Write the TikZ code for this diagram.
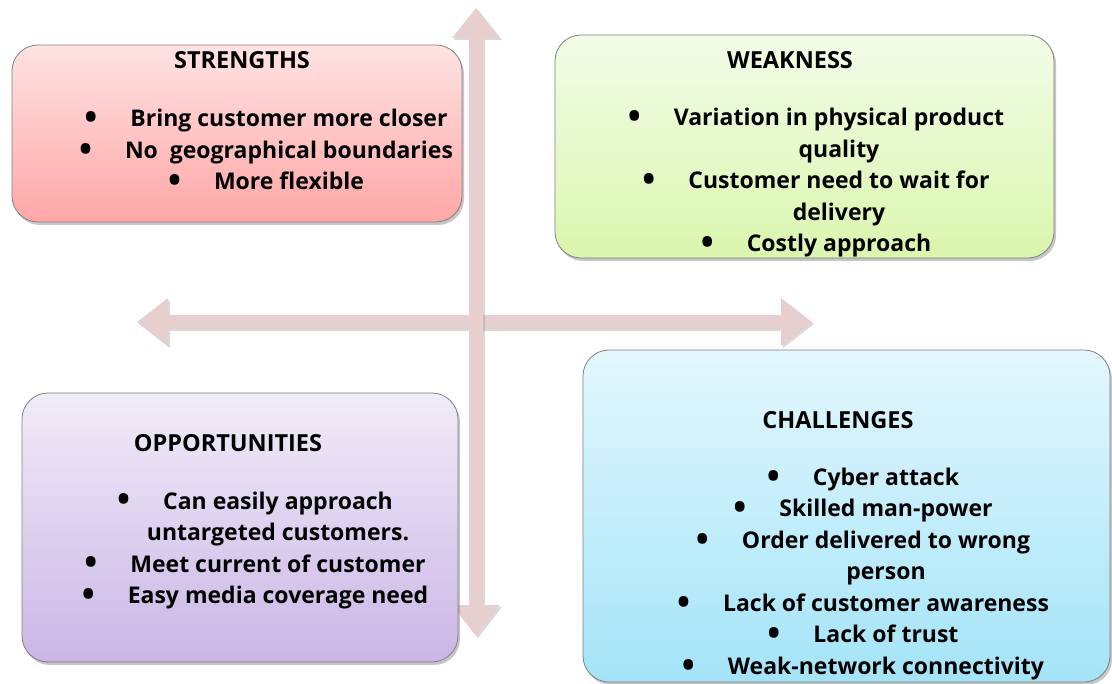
\documentclass[tikz,border=0pt]{standalone}
\usepackage{fontspec}
\IfFontExistsTF{Open Sans ExtraBold}
	{\setmainfont{Open Sans}[BoldFont={Open Sans ExtraBold}]}
	{\setmainfont{Open Sans}}
\usetikzlibrary{shadows}
\definecolor{axispink}{HTML}{E8CFCF}
\definecolor{strtop}{HTML}{FFE3E3} \definecolor{strbot}{HTML}{FFA6A6}
\definecolor{weaktop}{HTML}{F3FCE8} \definecolor{weakbot}{HTML}{DAF6AE}
\definecolor{opptop}{HTML}{F0ECF8} \definecolor{oppbot}{HTML}{CBB6E6}
\definecolor{chaltop}{HTML}{E3F7FD} \definecolor{chalbot}{HTML}{A4E4F8}
\newcommand\blt{\makebox[46pt][l]{\raisebox{-2.6pt}{\scalebox{1.5}{\textbullet}}}}
\newcommand\hang{\makebox[46pt]{}}
\begin{document}
\begin{tikzpicture}[x=1pt,y=-1pt,
		quad/.style={draw=gray,line width=.8pt,rounded corners=26pt,inner sep=0pt,
			drop shadow={shadow xshift=2pt,shadow yshift=-3pt,opacity=.45}},
		axis/.style={fill=axispink,drop shadow={shadow xshift=2pt,shadow yshift=-2pt,opacity=.3}},
		title/.style={font=\bfseries\fontsize{23.5}{31.5}\selectfont},
		list/.style={align=center,font=\bfseries\fontsize{23}{31.5}\selectfont}]
	\useasboundingbox (0,0) rectangle (1112,684);
	\def\vx{476} \def\hy{322}
	\def\sw{7} \def\hw{24}
	% double arrows
	\fill[axis] (137,\hy)--(168,\hy-\hw)--(168,\hy-\sw)--(781,\hy-\sw)--(781,\hy-\hw)--(812,\hy)
		--(781,\hy+\hw)--(781,\hy+\sw)--(168,\hy+\sw)--(168,\hy+\hw)--cycle;
	\fill[axis] (\vx,8)--(\vx+\hw,38)--(\vx+\sw,38)--(\vx+\sw,605)--(\vx+\hw,605)--(\vx,636)
		--(\vx-\hw,605)--(\vx-\sw,605)--(\vx-\sw,38)--(\vx-\hw,38)--cycle;
	% the four boxes
	\node[quad,top color=strtop,bottom color=strbot,minimum width=450pt,minimum height=177pt] (strengths) at (237,133.5) {};
	\node[quad,top color=weaktop,bottom color=weakbot,minimum width=499pt,minimum height=223pt] (weakness) at (804.5,146.5) {};
	\node[quad,top color=opptop,bottom color=oppbot,minimum width=436pt,minimum height=269pt] (opportunities) at (240,527.5) {};
	\node[quad,top color=chaltop,bottom color=chalbot,minimum width=527pt,minimum height=332pt] (challenges) at (846.5,516) {};
	% titles
	\node[title] (strtitle) at (242,60) {STRENGTHS};
	\node[title] (weaktitle) at (790,60) {WEAKNESS};
	\node[title] (opptitle) at (228,443) {OPPORTUNITIES};
	\node[title] (chaltitle) at (838,420) {CHALLENGES};
	% bullet lists
	\node[list] (strlist) at (266,151) {\blt Bring customer more closer\\ \blt No\ \ geographical boundaries\\ \blt More flexible};
	\node[list] (weaklist) at (816,183) {\blt Variation in physical product\\ \hang quality\\ \blt Customer need to wait for\\ \hang delivery\\ \blt Costly approach};
	\node[list] (opplist) at (255,550.5) {\blt Can easily approach\\ \hang untargeted customers.\\ \blt Meet current of customer\\ \blt Easy media coverage need};
	\node[list] (challist) at (863,574) {\blt Cyber attack\\ \blt Skilled man-power\\ \blt Order delivered to wrong\\ \hang person\\ \blt Lack of customer awareness\\ \blt Lack of trust\\ \blt Weak-network connectivity};
\end{tikzpicture}
\end{document}
